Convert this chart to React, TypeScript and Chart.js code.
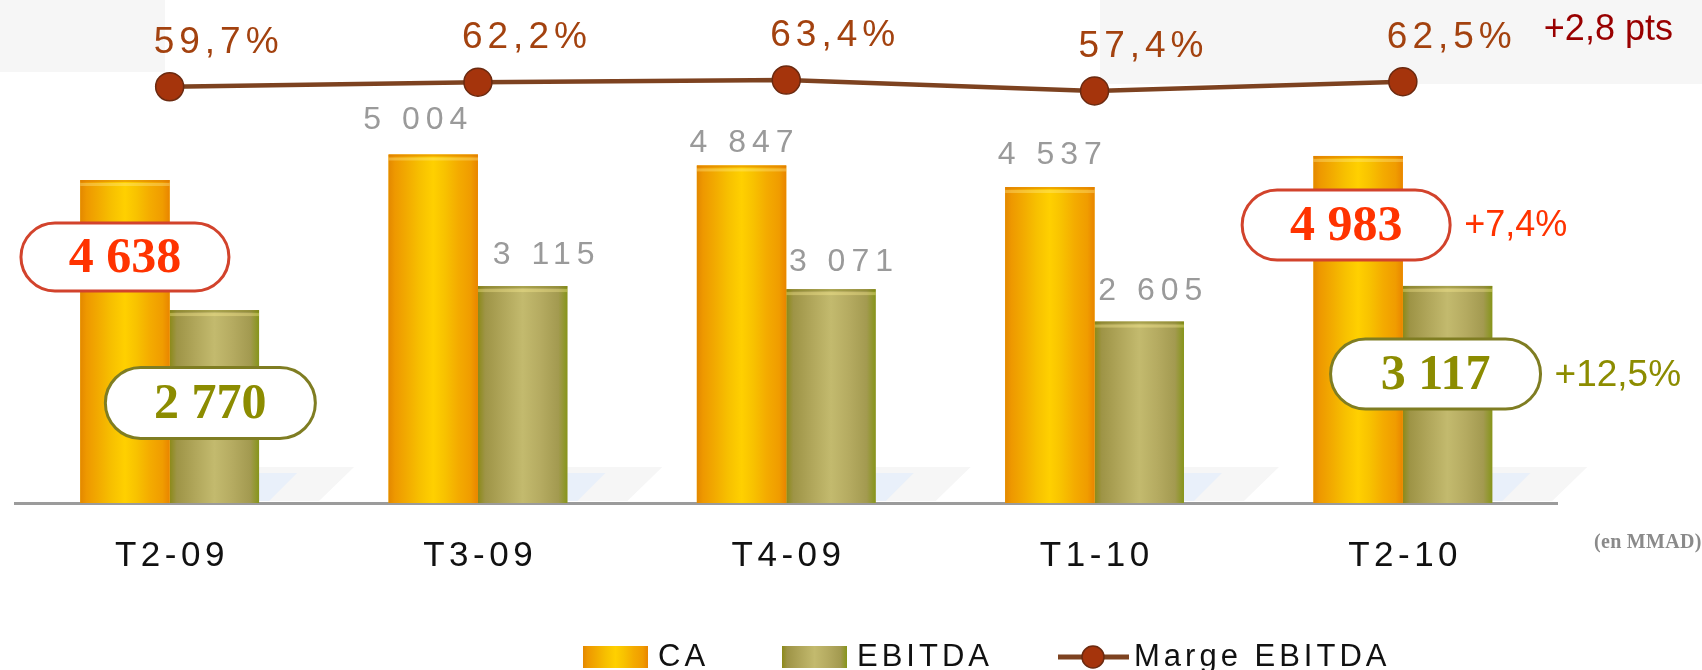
import React, { useEffect, useRef } from "react";
import { Chart, registerables } from "chart.js";

Chart.register(...registerables);

// ---- data ----
const categories = ["T2-09", "T3-09", "T4-09", "T1-10", "T2-10"];
const caValues = [4638, 5004, 4847, 4537, 4983];
const ebitdaValues = [2770, 3115, 3071, 2605, 3117];
const margeValues = [59.7, 62.2, 63.4, 57.4, 62.5];
const caLabels = ["4 638", "5 004", "4 847", "4 537", "4 983"];
const ebitdaLabels = ["2 770", "3 115", "3 071", "2 605", "3 117"];
const margeLabels = ["59,7%", "62,2%", "63,4%", "57,4%", "62,5%"];
const caGrowth = "+7,4%";
const ebitdaGrowth = "+12,5%";
const margeGrowth = "+2,8 pts";
const unitLabel = "(en MMAD)";
const legendLabels = ["CA", "EBITDA", "Marge EBITDA"];
const highlighted = [0, 4];

// ---- styles ----
const SANS = "'Liberation Sans', Arial, sans-serif";
const SERIF = "'Liberation Serif', 'Times New Roman', serif";
const caStops: [number, string][] = [
  [0, "#e38800"], [0.07, "#ee9800"], [0.2, "#f2aa00"], [0.35, "#f7c000"],
  [0.5, "#ffd000"], [0.63, "#f8c200"], [0.78, "#f4ab00"], [0.92, "#f09c00"], [1, "#e98500"],
];
const ebStops: [number, string][] = [
  [0, "#8c8a18"], [0.08, "#9e9446"], [0.28, "#b0a65a"], [0.5, "#c3ba6e"],
  [0.7, "#b5ab61"], [0.9, "#a39a50"], [1, "#86951a"],
];
// label offsets (dx, dy from bar top) for plain value labels
const caLabelOffsets: Record<number, [number, number]> = { 1: [-18, -34], 2: [0, -22], 3: [0, -32] };
const ebLabelOffsets: Record<number, [number, number]> = { 1: [21, -31], 2: [10, -27], 3: [11, -30] };

function gradFor(ctx: CanvasRenderingContext2D, left: number, w: number, stops: [number, string][]) {
  const g = ctx.createLinearGradient(left, 0, left + w, 0);
  stops.forEach(([o, c]) => g.addColorStop(o, c));
  return g;
}

function pill(ctx: CanvasRenderingContext2D, cx: number, cy: number, w: number, h: number, border: string, color: string, text: string) {
  const r = h / 2;
  ctx.save();
  ctx.beginPath();
  ctx.moveTo(cx - w / 2 + r, cy - h / 2);
  ctx.lineTo(cx + w / 2 - r, cy - h / 2);
  ctx.arc(cx + w / 2 - r, cy, r, -Math.PI / 2, Math.PI / 2);
  ctx.lineTo(cx - w / 2 + r, cy + h / 2);
  ctx.arc(cx - w / 2 + r, cy, r, Math.PI / 2, (3 * Math.PI) / 2);
  ctx.closePath();
  ctx.fillStyle = "#ffffff";
  ctx.fill();
  ctx.lineWidth = 3;
  ctx.strokeStyle = border;
  ctx.stroke();
  ctx.font = `bold 50px ${SERIF}`;
  ctx.fillStyle = color;
  ctx.textAlign = "center";
  ctx.textBaseline = "middle";
  ctx.fillText(text, cx, cy + 2);
  ctx.restore();
}

function spacedText(ctx: CanvasRenderingContext2D, text: string, x: number, y: number, font: string, color: string, spacing: number, align: CanvasTextAlign) {
  ctx.save();
  ctx.font = font;
  ctx.fillStyle = color;
  ctx.textBaseline = "middle";
  (ctx as any).letterSpacing = `${spacing}px`;
  let drawX = x;
  const w = ctx.measureText(text).width - spacing;
  ctx.textAlign = "left";
  if (align === "center") drawX = x - w / 2;
  else if (align === "right") drawX = x - w;
  ctx.fillText(text, drawX, y);
  ctx.restore();
}

const decorPlugin = {
  id: "decor",
  beforeDraw(chart: any) {
    const ctx = chart.ctx as CanvasRenderingContext2D;
    ctx.save();
    ctx.fillStyle = "#f6f6f6";
    ctx.fillRect(0, 0, 165, 72);
    ctx.fillRect(1100, 0, 602, 84);
    ctx.restore();
  },
  beforeDatasetsDraw(chart: any) {
    // faint floor reflections to the right of each bar group
    const ctx = chart.ctx as CanvasRenderingContext2D;
    const meta = chart.getDatasetMeta(1);
    ctx.save();
    meta.data.forEach((el: any) => {
      const { x, base, width } = el.getProps(["x", "base", "width"], true);
      const xr = x + width / 2;
      ctx.fillStyle = "#f6f6f6";
      ctx.beginPath();
      ctx.moveTo(xr, base - 36);
      ctx.lineTo(xr + 95, base - 36);
      ctx.lineTo(xr + 60, base - 2);
      ctx.lineTo(xr, base - 2);
      ctx.closePath();
      ctx.fill();
      ctx.fillStyle = "#e9f0fa";
      ctx.beginPath();
      ctx.moveTo(xr, base - 2);
      ctx.lineTo(xr, base - 30);
      ctx.lineTo(xr + 38, base - 30);
      ctx.lineTo(xr + 10, base - 2);
      ctx.closePath();
      ctx.fill();
    });
    ctx.restore();
  },
  afterDatasetDraw(chart: any, args: any) {
    const ds = chart.data.datasets[args.index];
    if (ds.type === "line") return;
    const stops = args.index === 0 ? caStops : ebStops;
    const ctx = chart.ctx as CanvasRenderingContext2D;
    ctx.save();
    args.meta.data.forEach((el: any) => {
      const { x, y, base, width } = el.getProps(["x", "y", "base", "width"], true);
      const left = x - width / 2;
      ctx.fillStyle = gradFor(ctx, left, width, stops);
      ctx.fillRect(left, y, width, base - y);
      ctx.fillStyle = args.index === 0 ? "rgba(220,120,0,0.45)" : "rgba(120,120,20,0.35)";
      ctx.fillRect(left, y, width, 2);
      ctx.fillStyle = "rgba(255,240,150,0.35)";
      ctx.fillRect(left, y + 3, width, 3);
    });
    ctx.restore();
  },
  afterDraw(chart: any) {
    const ctx = chart.ctx as CanvasRenderingContext2D;
    const xs = chart.scales.x;
    const caMeta = chart.getDatasetMeta(0);
    const ebMeta = chart.getDatasetMeta(1);
    const lnMeta = chart.getDatasetMeta(2);

    // category labels
    categories.forEach((c, i) => {
      spacedText(ctx, c, xs.getPixelForValue(i), 556, `35px ${SANS}`, "#111111", 4.5, "center");
    });

    // unit label
    spacedText(ctx, unitLabel, 1594, 543, `bold 20px ${SERIF}`, "#8a8a8a", 0.3, "left");

    // plain value labels
    caValues.forEach((_, i) => {
      if (highlighted.includes(i)) return;
      const el = caMeta.data[i];
      const [dx, dy] = caLabelOffsets[i] || [0, -30];
      spacedText(ctx, caLabels[i], el.x + dx, el.y + dy, `32px ${SANS}`, "#9a9a9a", 6, "center");
    });
    ebitdaValues.forEach((_, i) => {
      if (highlighted.includes(i)) return;
      const el = ebMeta.data[i];
      const [dx, dy] = ebLabelOffsets[i] || [10, -30];
      spacedText(ctx, ebitdaLabels[i], el.x + dx, el.y + dy, `32px ${SANS}`, "#9a9a9a", 6, "center");
    });

    // marge labels
    margeValues.forEach((_, i) => {
      const p = lnMeta.data[i];
      spacedText(ctx, margeLabels[i], p.x - 16, p.y - 44, `37px ${SANS}`, "#a3420f", 5, "left");
    });
    const lastP = lnMeta.data[margeValues.length - 1];
    spacedText(ctx, margeGrowth, lastP.x + 141, 30, `36px ${SANS}`, "#990000", 0, "left");

    // pills
    const W = 208, H = 68;
    const ca0 = caMeta.data[0], ca4 = caMeta.data[4], eb0 = ebMeta.data[0], eb4 = ebMeta.data[4];
    pill(ctx, ca0.x, 257, W, H, "#d2432c", "#ff3300", caLabels[0]);
    pill(ctx, eb0.x - 4, 403, W + 2, H + 3, "#7f7d22", "#8c8c00", ebitdaLabels[0]);
    pill(ctx, ca4.x - 12, 225, W, H + 2, "#d2432c", "#ff3300", caLabels[4]);
    pill(ctx, eb4.x - 12, 374, W + 2, H + 2, "#7f7d22", "#8c8c00", ebitdaLabels[4]);
    spacedText(ctx, caGrowth, ca4.x - 12 + W / 2 + 14, 226, `36px ${SANS}`, "#ff3300", 0, "left");
    spacedText(ctx, ebitdaGrowth, eb4.x - 12 + W / 2 + 15, 376, `37px ${SANS}`, "#8c8c00", 0, "left");

    // legend
    const ly = 657;
    ctx.save();
    ctx.fillStyle = gradFor(ctx, 583, 65, caStops);
    ctx.fillRect(583, ly - 11, 65, 22);
    ctx.fillStyle = gradFor(ctx, 782, 65, ebStops);
    ctx.fillRect(782, ly - 11, 65, 22);
    ctx.strokeStyle = "#7d4220";
    ctx.lineWidth = 5;
    ctx.beginPath();
    ctx.moveTo(1058, ly);
    ctx.lineTo(1129, ly);
    ctx.stroke();
    ctx.beginPath();
    ctx.arc(1093, ly, 11, 0, Math.PI * 2);
    ctx.fillStyle = "#a5340c";
    ctx.fill();
    ctx.lineWidth = 1.5;
    ctx.strokeStyle = "#6b2a10";
    ctx.stroke();
    ctx.restore();
    spacedText(ctx, legendLabels[0], 658, ly, `31px ${SANS}`, "#111111", 4, "left");
    spacedText(ctx, legendLabels[1], 857, ly, `31px ${SANS}`, "#111111", 4, "left");
    spacedText(ctx, legendLabels[2], 1134, ly, `31px ${SANS}`, "#111111", 4, "left");
  },
};

export default function App() {
  const ref = useRef<HTMLCanvasElement | null>(null);
  useEffect(() => {
    document.body.style.margin = "0";
    const canvas = ref.current!;
    const chart = new Chart(canvas, {
      type: "bar",
      data: {
        labels: categories,
        datasets: [
          { type: "bar", label: legendLabels[0], data: caValues, backgroundColor: "#f5b400", yAxisID: "y", order: 1 },
          { type: "bar", label: legendLabels[1], data: ebitdaValues, backgroundColor: "#b0a65a", yAxisID: "y", order: 1 },
          {
            type: "line", label: legendLabels[2], data: margeValues, yAxisID: "y1", order: 0,
            borderColor: "#7d4220", borderWidth: 4.5, pointRadius: 14,
            pointBackgroundColor: "#a5340c", pointBorderColor: "#6b2a10", pointBorderWidth: 1.5,
            tension: 0,
          },
        ],
      } as any,
      options: {
        responsive: false,
        animation: false,
        layout: { padding: { left: 6, right: 145, top: 10, bottom: 167 } },
        plugins: { legend: { display: false }, tooltip: { enabled: false }, title: { display: false } },
        datasets: { bar: { categoryPercentage: 0.58, barPercentage: 1 } } as any,
        scales: {
          x: {
            grid: { display: false, drawTicks: false },
            ticks: { display: false },
            border: { display: true, color: "#9b9b9b", width: 3 },
          },
          y: { display: false, min: 0, max: 7000 },
          y1: { display: false, min: -170, max: 99 },
        },
      } as any,
      plugins: [decorPlugin],
    });
    return () => chart.destroy();
  }, []);
  return (
    <div style={{ width: 1702, height: 670, background: "#ffffff" }}>
      <canvas ref={ref} width={1702} height={670} style={{ display: "block" }} />
    </div>
  );
}
